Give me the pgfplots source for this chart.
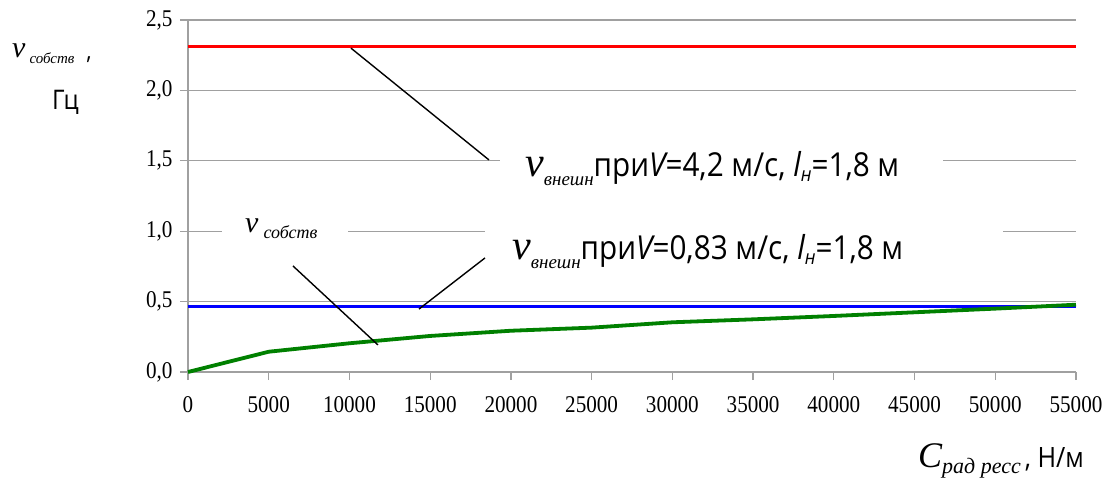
\documentclass[border=0pt]{standalone}
\usepackage{fontspec}
\setmainfont{Liberation Serif}
\newfontfamily\sansf[FakeStretch=0.9]{Open Sans}
\newfontfamily\serifst[FakeStretch=0.88]{Liberation Serif}
\usepackage{pgfplots}
\pgfplotsset{compat=1.18}
\newcommand{\fs}[1]{\fontsize{#1}{#1}\selectfont}
\definecolor{gridg}{HTML}{A0A0A0}
\definecolor{lgreen}{HTML}{008000}

\pgfplotstableread{
x y
0 0
5000 0.144
10000 0.204
15000 0.256
20000 0.293
25000 0.315
30000 0.353
35000 0.374
40000 0.398
45000 0.424
50000 0.450
55000 0.478
}\sobst

\begin{document}
\begin{tikzpicture}[x=1pt,y=1pt]
\path[use as bounding box] (-188,-112) rectangle (919,372);
\begin{axis}[
 at={(0,0)}, anchor=south west, scale only axis, width=888pt, height=352pt,
 xmin=0, xmax=55000, ymin=0, ymax=2.5,
 axis x line*=bottom, axis y line*=left,
 axis line style={draw=gridg, line width=1.5pt, -},
 xtick={0,5000,...,55000}, ytick={0,0.5,1,1.5,2,2.5},
 tick align=outside, major tick length=8pt,
 tick style={draw=gridg, line width=1.3pt},
 ymajorgrids, grid style={draw=gridg, line width=1.3pt},
 scaled x ticks=false,
 xticklabel style={yshift=-13pt, /pgf/number format/.cd, 1000 sep={}, assume math mode=true},
 yticklabel style={xshift=-4pt, /pgf/number format/.cd, fixed, fixed zerofill, precision=1, use comma, assume math mode=true},
 tick label style={font=\serifst\fs{24}},
 clip=false,
]
\addplot[red, line width=3.5pt] coordinates {(0,2.31) (55000,2.31)};
\addplot[blue, line width=3.5pt] coordinates {(0,0.465) (55000,0.465)};
\addplot[lgreen, line width=3.8pt] table[x=x,y=y] {\sobst};
% gaps in grid lines behind labels
\fill[white] (axis cs:19324,1.46) rectangle (axis cs:46762,1.54);
\fill[white] (axis cs:2106,0.96) rectangle (axis cs:9910,1.04);
\fill[white] (axis cs:18395,0.96) rectangle (axis cs:50479,1.04);
% leaders
\draw[black, line width=1.4pt] (axis cs:10096,2.30) -- (axis cs:18643,1.506);
\draw[black, line width=1.4pt] (axis cs:6503,0.753) -- (axis cs:11768,0.192);
\draw[black, line width=1.4pt] (axis cs:18395,0.810) -- (axis cs:14307,0.447);
\end{axis}
% annotation labels
\node[anchor=base west, inner sep=0] at (337,195) {{\itshape\fs{42}ν}{\itshape\fs{19}\raisebox{-9pt}{внешн}}{\sansf\fs{33}при{\itshape V}=4,2 м/с, {\itshape l}{\fs{20}\itshape\raisebox{-5pt}{н}}=1,8 м}};
\node[anchor=base west, inner sep=0] at (324,112) {{\itshape\fs{42}ν}{\itshape\fs{19}\raisebox{-9pt}{внешн}}{\sansf\fs{33}при{\itshape V}=0,83 м/с, {\itshape l}{\fs{20}\itshape\raisebox{-5pt}{н}}=1,8 м}};
\node[anchor=base west, inner sep=0] at (57,139) {{\itshape\fs{30}ν}\hspace{5pt}{\itshape\fs{18}\raisebox{-6pt}{собств}}};
% y label
\node[anchor=base west, inner sep=0] at (-176,314) {{\itshape\fs{30}ν}\hspace{4pt}{\itshape\fs{15}\raisebox{-6pt}{собств}}\hspace{12pt}{\sansf\fs{24}\raisebox{-2pt}{,}}};
\node[anchor=base west, inner sep=0] at (-136,262) {\sansf\fs{27}Гц};
% x label
\node[anchor=base west, inner sep=0] at (730,-95) {{\itshape\fs{36}C}{\itshape\fs{22}\raisebox{-6pt}{рад ресс}}\hspace{4pt}{\sansf\fs{28}, Н/м}};
\end{tikzpicture}
\end{document}
